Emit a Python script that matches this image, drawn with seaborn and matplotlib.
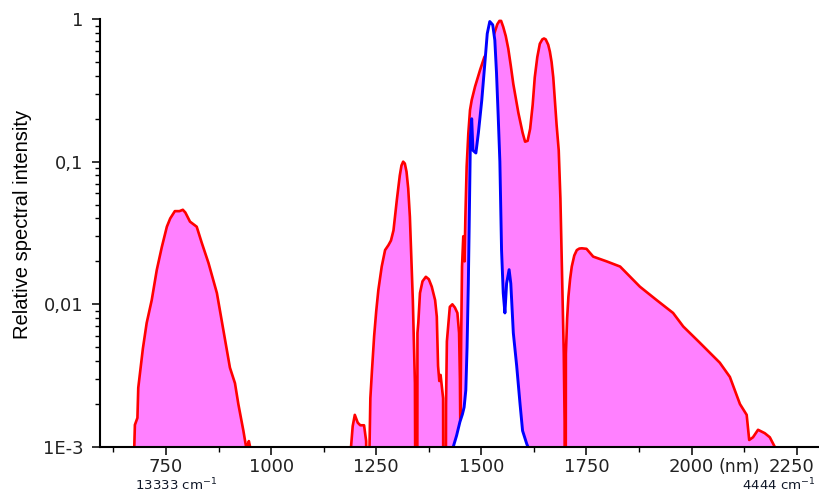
import numpy as np
import matplotlib
matplotlib.use("Agg")
import matplotlib.pyplot as plt
import matplotlib.ticker as mticker
from matplotlib.transforms import ScaledTranslation
import seaborn as sns

# ---- data (wavelength nm, relative intensity); 1e-5 = below the axis floor ----
red_nm = [660, 674, 674.5, 676, 682, 684, 695, 704, 716, 728, 740, 752, 760, 771, 782,
          790, 796, 807, 823, 835, 851, 871, 882, 902, 914, 922, 934, 940, 944, 947,
          950, 951,
          1189, 1190, 1194, 1199, 1206, 1212, 1221, 1226, 1229, 1232, 1234, 1236, 1240,
          1245, 1250, 1255, 1263, 1271, 1279, 1285, 1291, 1299, 1306, 1310, 1314, 1318,
          1322, 1326, 1330, 1337,
          1342, 1345, 1347, 1348, 1350, 1354, 1360, 1368, 1375, 1382, 1390, 1394, 1397,
          1400, 1403, 1407, 1409, 1410.5, 1414, 1416, 1418, 1425, 1431, 1437, 1443,
          1447, 1449, 1450, 1452, 1454, 1457, 1459, 1460, 1462, 1465, 1469, 1473, 1477,
          1485, 1497, 1507, 1520, 1530, 1538, 1543, 1547, 1552, 1558, 1564, 1570, 1576,
          1588, 1598, 1604, 1610, 1616, 1622, 1627, 1633, 1639, 1645, 1649, 1653, 1659,
          1663, 1667, 1671, 1679, 1684, 1688, 1692, 1696,
          1698, 1699, 1700, 1701, 1704, 1707, 1711, 1715, 1721, 1727, 1733, 1739, 1750,
          1766, 1798, 1830, 1877, 1917, 1956, 1980, 2019, 2067, 2091, 2115, 2131, 2137,
          2146, 2158, 2174, 2186, 2198, 2199, 2320]
red_val = [1e-5, 1e-5, 1.0e-3, 1.43e-3, 1.6e-3, 2.6e-3, 4.9e-3, 7.4e-3, 0.0107, 0.0174,
           0.0252, 0.035, 0.040, 0.045, 0.045, 0.046, 0.044, 0.038, 0.035, 0.027, 0.0195,
           0.012, 0.0078, 0.0036, 0.0028, 0.0020, 0.0013, 1.02e-3, 1.02e-3, 1.1e-3,
           1.0e-3, 1e-5,
           1e-5, 1.0e-3, 1.4e-3, 1.68e-3, 1.48e-3, 1.42e-3, 1.42e-3, 1.1e-3, 1e-5, 1e-5,
           1.0e-3, 2.2e-3, 3.5e-3, 6e-3, 9e-3, 0.0126, 0.0184, 0.024, 0.026, 0.028, 0.033,
           0.054, 0.0800, 0.094, 0.1, 0.097, 0.085, 0.065, 0.041, 0.0107,
           0.0028, 1e-5, 1e-5, 6.3e-3, 7.4e-3, 0.012,
           0.0145, 0.0156, 0.015, 0.0133, 0.0107, 0.0082, 3.7e-3, 2.9e-3, 3.2e-3, 2.5e-3,
           2.2e-3, 1e-5, 1e-5, 2e-3, 5.5e-3, 9.6e-3, 0.0100, 0.0095, 8.7e-3, 6.3e-3, 3e-3,
           1.3e-3, 6e-3, 0.0184, 0.030, 0.030, 0.020, 0.041, 0.092, 0.158, 0.23, 0.27,
           0.336, 0.44, 0.54, 0.62, 0.78, 0.92, 0.97, 0.97, 0.88, 0.76, 0.62, 0.47, 0.35,
           0.22, 0.16, 0.138, 0.14, 0.17, 0.25, 0.39, 0.54, 0.67, 0.72, 0.73, 0.72, 0.66,
           0.59, 0.50, 0.39, 0.18, 0.12, 0.055, 0.016, 4.5e-3,
           1.5e-3, 1e-5, 1e-5, 4.5e-3, 0.008, 0.0113, 0.0150, 0.0184, 0.0220, 0.024,
           0.0246, 0.0247, 0.0245, 0.0216, 0.020, 0.0184, 0.0133, 0.0107, 8.7e-3, 7e-3,
           5.4e-3, 3.9e-3, 3.1e-3, 2.0e-3, 1.68e-3, 1.12e-3, 1.17e-3, 1.32e-3, 1.25e-3,
           1.17e-3, 1.0e-3, 1e-5, 1e-5]

blue_nm = [1400, 1432, 1433, 1441, 1449, 1455, 1459, 1463, 1466, 1469, 1471, 1474, 1477,
           1480, 1487, 1493, 1501, 1509, 1514, 1520, 1527, 1532, 1536, 1540, 1544, 1548,
           1552, 1556, 1560, 1566, 1570, 1576, 1584, 1592, 1598, 1608, 1611, 1612, 1650]
blue_val = [1e-5, 1e-5, 1.0e-3, 1.2e-3, 1.5e-3, 1.7e-3, 1.9e-3, 2.5e-3, 5e-3, 0.014,
            0.035, 0.15, 0.2, 0.12, 0.115, 0.16, 0.27, 0.52, 0.79, 0.96, 0.91, 0.71, 0.42,
            0.21, 0.1, 0.024, 0.012, 8.7e-3, 0.014, 0.0175, 0.014, 6.3e-3, 3.7e-3, 2.0e-3,
            1.3e-3, 1.05e-3, 1.0e-3, 1e-5, 1e-5]

x_ticks = [750, 1000, 1250, 1500, 1750, 2000, 2250]
y_ticks = [1e-3, 1e-2, 1e-1, 1]
y_tick_labels = ["1E-3", "0,01", "0,1", "1"]

# ---- style ----
sns.set_style("ticks")
plt.rcParams["font.family"] = ["DejaVu Sans"]

fig = plt.figure(figsize=(8.19, 4.93), dpi=100)
ax = fig.add_axes([100 / 819, 46 / 493, 719 / 819, 428 / 493])
ax.set_yscale("log")

base = 1e-5
ax.fill_between(red_nm, base, red_val, color="#FF80FF", linewidth=0, zorder=1)
sns.lineplot(x=red_nm, y=red_val, ax=ax, color="#FF0000", linewidth=1.9,
             estimator=None, sort=False, zorder=2)
ax.fill_between(blue_nm, base, blue_val, color="white", linewidth=0, zorder=3)
sns.lineplot(x=blue_nm, y=blue_val, ax=ax, color="#0000FF", linewidth=2.1,
             estimator=None, sort=False, zorder=4)

ax.set_xlim(593, 2303)
ax.set_ylim(1e-3, 1)

# spines
for s in ["top", "right"]:
    ax.spines[s].set_visible(False)
for s in ["left", "bottom"]:
    ax.spines[s].set_linewidth(1.5)
    ax.spines[s].set_color("black")
    ax.spines[s].set_zorder(6)

# ticks
ax.set_xticks(x_ticks)
ax.xaxis.set_minor_locator(mticker.FixedLocator([625, 875, 1125, 1375, 1625, 1875, 2125]))
ax.yaxis.set_major_locator(mticker.FixedLocator(y_ticks))
ax.yaxis.set_major_formatter(mticker.FixedFormatter(y_tick_labels))
ax.yaxis.set_minor_locator(mticker.LogLocator(base=10, subs=np.arange(2, 10)))
ax.yaxis.set_minor_formatter(mticker.NullFormatter())
ax.tick_params(axis="both", which="major", direction="out", length=6, width=1.1,
               color="black", labelsize=13, labelcolor="#222222")
ax.tick_params(axis="both", which="minor", direction="out", length=3.6, width=1.0,
               color="black")
ax.tick_params(axis="x", which="major", pad=2)
ax.tick_params(axis="y", which="major", pad=6)

# shift last x label slightly left like the reference
lbls = ax.get_xticklabels()
lbls[-1].set_transform(lbls[-1].get_transform() +
                       ScaledTranslation(-5 / 100, 0, fig.dpi_scale_trans))

ax.set_ylabel("Relative spectral intensity", fontsize=14.5, family="Liberation Sans",
              color="black")
ax.yaxis.set_label_coords(-0.094, 0.519)

ax.set_xlabel("(nm)", fontsize=12.5, color="#222222")
ax.xaxis.set_label_coords((739 - 100) / 719, -0.026)

fig.text(176 / 819, 1 - 485 / 493, "13333 cm$^{-1}$", fontsize=9.6, color="#101828",
         ha="center", va="center")
fig.text(742 / 819, 1 - 485 / 493, "4444 cm$^{-1}$", fontsize=9.6, color="#101828",
         ha="left", va="center")

fig.savefig("out.png", dpi=100)
